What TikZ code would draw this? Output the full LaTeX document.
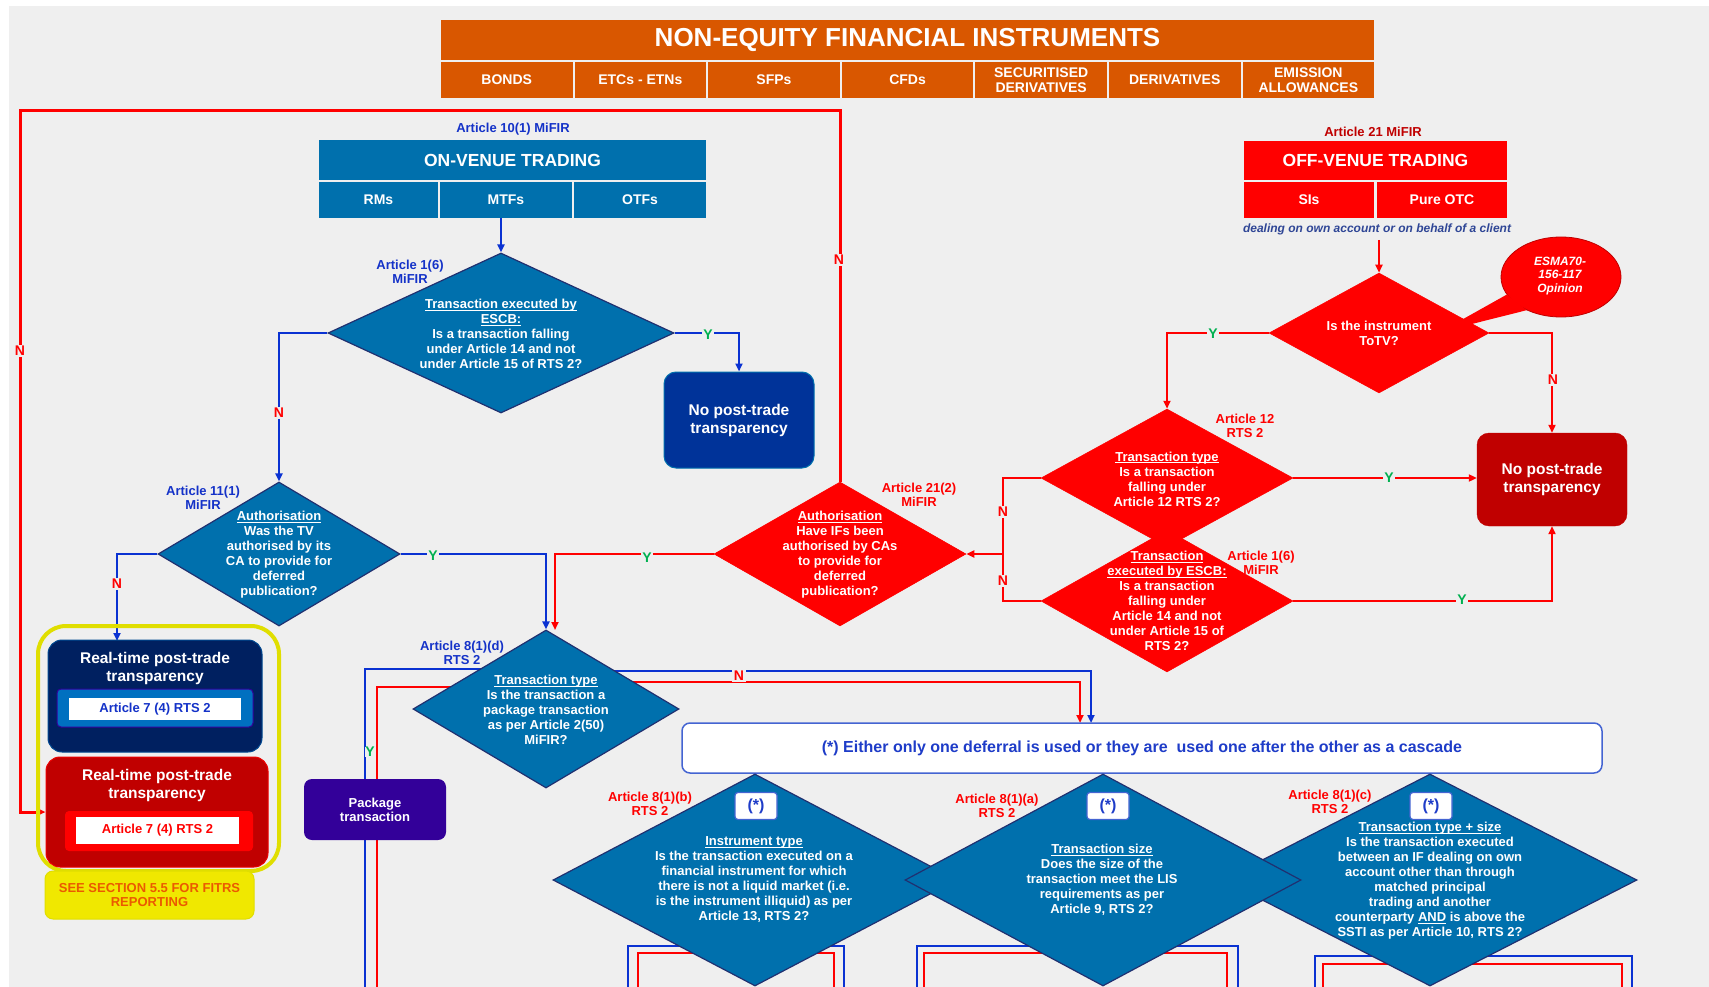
\documentclass[tikz,border=0pt]{standalone}
\usepackage{fontspec}
\setmainfont{Liberation Sans}
\usetikzlibrary{arrows.meta,shapes.geometric}
\pgfdeclarelayer{back}
\pgfdeclarelayer{lines}
\pgfsetlayers{back,lines,main}
\definecolor{bgc}{RGB}{239,239,239}
\definecolor{orangeT}{RGB}{217,87,0}
\definecolor{venueblue}{RGB}{0,112,173}
\definecolor{diaedge}{RGB}{32,48,112}
\definecolor{noblue}{RGB}{0,51,153}
\definecolor{rtnavy}{RGB}{0,32,96}
\definecolor{innerteal}{RGB}{0,112,192}
\definecolor{brred}{RGB}{255,0,0}
\definecolor{dkred}{RGB}{192,0,0}
\definecolor{pkg}{RGB}{51,0,153}
\definecolor{lineblue}{RGB}{10,50,210}
\definecolor{labblue}{RGB}{20,50,200}
\definecolor{ygreen}{RGB}{0,176,80}
\definecolor{yel}{RGB}{240,232,0}
\definecolor{yelline}{RGB}{224,222,0}
\definecolor{fitrs}{RGB}{235,90,0}
\definecolor{cascline}{RGB}{68,100,210}
\definecolor{casctext}{RGB}{30,60,200}
\definecolor{dealtext}{RGB}{47,70,150}
\newcommand\fsz[2]{\fontsize{#1}{#2}\selectfont}
\newsavebox\ulxbox
\newcommand\ulx[1]{\sbox\ulxbox{#1}\rlap{\rule[-1.8pt]{\wd\ulxbox}{0.9pt}}\usebox\ulxbox}
\begin{document}
\begin{tikzpicture}[x=1pt,y=-1pt,
 hdrbox/.style={fill=orangeT,text=white,inner sep=0pt,align=center,minimum height=36pt,font=\bfseries\fsz{14}{15.5}},
 vbox/.style={fill=venueblue,text=white,inner sep=0pt,align=center,font=\bfseries\fsz{14}{16}},
 rbox/.style={fill=brred,text=white,inner sep=0pt,align=center,font=\bfseries\fsz{14}{16}},
 dia/.style={diamond,inner sep=0pt,fill=venueblue,draw=diaedge,line width=1.2pt},
 rdia/.style={diamond,inner sep=0pt,fill=brred,draw=brred,line width=0.5pt},
 dtxt/.style={text=white,align=center,inner sep=0pt,font=\bfseries\fsz{13}{15}},
 artb/.style={text=labblue,align=center,inner sep=0pt,font=\bfseries\fsz{13}{14}},
 artr/.style={text=brred,align=center,inner sep=0pt,font=\bfseries\fsz{13}{14}},
 ylab/.style={text=ygreen,fill=bgc,inner sep=1.5pt,font=\bfseries\fsz{14}{14}},
 nlab/.style={text=brred,fill=bgc,inner sep=1.5pt,font=\bfseries\fsz{14}{14}},
 bline/.style={draw=lineblue,line width=2.7pt},
 rline/.style={draw=brred,line width=2.7pt},
 arr/.style={-{Triangle[length=8pt,width=7pt]}},
 bigbox/.style={text=white,align=center,inner sep=0pt,font=\bfseries\fsz{15.5}{18}},
 starbox/.style={fill=white,draw=cascline,line width=1.2pt,rounded corners=3pt,minimum width=42pt,minimum height=27pt,inner sep=0pt,text=casctext,font=\bfseries\fsz{16}{16}},
]
\begin{pgfonlayer}{back}
\fill[white] (0,0) rectangle (1709,987);
\fill[bgc] (9,6) rectangle (1709,987);
\end{pgfonlayer}
\useasboundingbox (0,0) rectangle (1709,987);

% ---------- header ----------
\node[fill=orangeT,text=white,inner sep=0pt,minimum width=933pt,minimum height=40pt,font=\bfseries\fsz{26}{28}] (ttl) at (907.5,40) {NON-EQUITY FINANCIAL INSTRUMENTS};
\node[hdrbox,minimum width=131.5pt] (h1) at (506.75,80) {BONDS};
\node[hdrbox,minimum width=131.5pt] (h2) at (640.35,80) {ETCs - ETNs};
\node[hdrbox,minimum width=131.5pt] (h3) at (773.95,80) {SFPs};
\node[hdrbox,minimum width=131.5pt] (h4) at (907.55,80) {CFDs};
\node[hdrbox,minimum width=131.5pt] (h5) at (1041.15,80) {SECURITISED\\DERIVATIVES};
\node[hdrbox,minimum width=131.5pt] (h6) at (1174.75,80) {DERIVATIVES};
\node[hdrbox,minimum width=131.5pt] (h7) at (1308.35,80) {EMISSION\\ALLOWANCES};

% ---------- on-venue ----------
\node[artb] (a101) at (513,129) {Article 10(1) MiFIR};
\node[vbox,minimum width=387pt,minimum height=40pt,font=\bfseries\fsz{17.5}{19}] (onv) at (512.5,160) {ON-VENUE TRADING};
\node[vbox,minimum width=119pt,minimum height=36pt] (rms) at (378.5,200) {RMs};
\node[vbox,minimum width=132pt,minimum height=36pt] (mtfs) at (506,200) {MTFs};
\node[vbox,minimum width=132pt,minimum height=36pt] (otfs) at (640,200) {OTFs};

% ---------- off-venue ----------
\node[artr,text=dkred] (a21) at (1373,132) {Article 21 MiFIR};
\node[rbox,minimum width=263pt,minimum height=39pt,font=\bfseries\fsz{17.5}{19}] (offv) at (1375.5,160.5) {OFF-VENUE TRADING};
\node[rbox,minimum width=130pt,minimum height=36pt] (sis) at (1309,200) {SIs};
\node[rbox,minimum width=130pt,minimum height=36pt] (potc) at (1442,200) {Pure OTC};
\node[text=dealtext,inner sep=0pt,font=\bfseries\itshape\fsz{12}{13}] (deal) at (1377,229) {dealing on own account or on behalf of a client};

% ---------- on-venue diamonds ----------
\node[dia,minimum width=346pt,minimum height=160pt] (dA) at (501,333) {};
\node[dtxt] (tA) at (501,334) {\ulx{Transaction executed by}\\\ulx{ESCB:}\\Is a transaction falling\\under Article 14 and not\\under Article 15 of RTS 2?};
\node[artb] (lA) at (410,272) {Article 1(6)\\MiFIR};

\node[bigbox,fill=noblue,draw=venueblue,line width=1pt,rounded corners=12pt,minimum width=150pt,minimum height=96pt] (noA) at (739,420) {No post-trade\\transparency};

\node[dia,minimum width=242pt,minimum height=144pt] (dB) at (279,554) {};
\node[dtxt] (tB) at (279,555) {\ulx{Authorisation}\\Was the TV\\authorised by its\\CA to provide for\\deferred\\publication?};
\node[artb] (lB) at (203,498) {Article 11(1)\\MiFIR};

\node[dia,minimum width=266pt,minimum height=158pt] (dC) at (546,709) {};
\node[dtxt] (tC) at (546,710) {\ulx{Transaction type}\\Is the transaction a\\package transaction\\as per Article 2(50)\\MiFIR?};
\node[artb] (lC) at (462,653) {Article 8(1)(d)\\RTS 2};

% ---------- off-venue diamonds ----------
\node[rdia,minimum width=220pt,minimum height=120pt] (dT) at (1379,333) {};
\node[ellipse,fill=brred,draw=dkred,line width=0.8pt,minimum width=120pt,minimum height=80pt,inner sep=0pt] (esma) at (1561,277) {};
\fill[brred] (esma.198) -- (1440,332) -- (esma.224) -- cycle;
\node[text=white,align=center,inner sep=0pt,font=\bfseries\itshape\fsz{12}{13.5}] (esmat) at (1560,276) {ESMA70-\\156-117\\Opinion};
\node[dtxt] (tT) at (1379,333) {Is the instrument\\ToTV?};

\node[bigbox,fill=dkred,draw=dkred,rounded corners=12pt,minimum width=150pt,minimum height=93pt] (noB) at (1552,479.5) {No post-trade\\transparency};

\node[rdia,minimum width=252pt,minimum height=138pt] (dE) at (1167,478) {};
\node[rdia,minimum width=252pt,minimum height=142pt] (dF) at (1167,601) {};
\node[dtxt] (tE) at (1167,479) {\ulx{Transaction type}\\Is a transaction\\falling under\\Article 12 RTS 2?};
\node[dtxt] (tF) at (1167,601) {\ulx{Transaction}\\\ulx{executed by ESCB:}\\Is a transaction\\falling under\\Article 14 and not\\under Article 15 of\\RTS 2?};
\node[artr] (lE) at (1245,426) {Article 12\\RTS 2};
\node[artr] (lF) at (1261,563) {Article 1(6)\\MiFIR};

\node[rdia,minimum width=252pt,minimum height=144pt] (dG) at (840,554) {};
\node[dtxt] (tG) at (840,555) {\ulx{Authorisation}\\Have IFs been\\authorised by CAs\\to provide for\\deferred\\publication?};
\node[artr] (lG) at (919,495) {Article 21(2)\\MiFIR};

% ---------- left boxes ----------
\node[draw=yelline,line width=4pt,rounded corners=28pt,minimum width=241pt,minimum height=245pt,inner sep=0pt] (yframe) at (158.5,748.5) {};
\node[fill=rtnavy,draw=innerteal!50!rtnavy,line width=1pt,rounded corners=14pt,minimum width=214pt,minimum height=112pt,inner sep=0pt] (rtA) at (155,696) {};
\node[bigbox] (rtAt) at (155,668) {Real-time post-trade\\transparency};
\node[fill=innerteal,draw=pkg,line width=1pt,rounded corners=4pt,minimum width=196pt,minimum height=38pt,inner sep=0pt] (rtAi) at (155,708) {};
\node[fill=white,minimum width=172pt,minimum height=22pt,inner sep=0pt,text=labblue,font=\bfseries\fsz{13}{14}] (rtAw) at (155,709) {Article 7 (4) RTS 2};

\node[fill=dkred,draw=brred!70!dkred,line width=1pt,rounded corners=14pt,minimum width=222pt,minimum height=110pt,inner sep=0pt] (rtB) at (157,812) {};
\node[bigbox] (rtBt) at (157,785) {Real-time post-trade\\transparency};
\node[fill=brred,rounded corners=4pt,minimum width=188pt,minimum height=40pt,inner sep=0pt] (rtBi) at (159,831) {};
\node[fill=white,minimum width=163pt,minimum height=27pt,inner sep=0pt,text=brred,font=\bfseries\fsz{13}{14}] (rtBw) at (157.5,830.5) {Article 7 (4) RTS 2};

\node[fill=yel,draw=yelline,line width=1pt,rounded corners=8pt,minimum width=209pt,minimum height=48pt,inner sep=0pt,align=center,text=fitrs,font=\bfseries\fsz{13}{14}] (fitrsbox) at (149.5,895) {SEE SECTION 5.5 FOR FITRS\\REPORTING};

\node[fill=pkg,rounded corners=8pt,minimum width=142pt,minimum height=61pt,inner sep=0pt,align=center,text=white,font=\bfseries\fsz{13}{14}] (pkgbox) at (375,809.5) {Package\\transaction};

% ---------- cascade ----------
\node[fill=white,draw=cascline,line width=1.5pt,rounded corners=8pt,minimum width=920pt,minimum height=50pt,inner sep=0pt,text=casctext,font=\bfseries\fsz{16}{18}] (casc) at (1142,748) {(*) Either only one deferral is used or they are\ \ used one after the other as a cascade};

% ---------- bottom diamonds ----------
\node[dia,minimum width=404pt,minimum height=212pt] (dH) at (755,880) {};
\node[dia,minimum width=414pt,minimum height=212pt] (dJ) at (1430,880) {};
\node[dia,minimum width=396pt,minimum height=212pt] (dI) at (1103,880) {};
\node[starbox] (sH) at (756,806) {(*)};
\node[starbox] (sI) at (1108,806) {(*)};
\node[starbox] (sJ) at (1431,806) {(*)};
\node[dtxt] (tH) at (754,880) {\ulx{Instrument type}\\Is the transaction executed on a\\financial instrument for which\\there is not a liquid market (i.e.\\is the instrument illiquid) as per\\Article 13, RTS 2?};
\node[dtxt] (tI) at (1102,880) {\ulx{Transaction size}\\Does the size of the\\transaction meet the LIS\\requirements as per\\Article 9, RTS 2?};
\node[dtxt] (tJ) at (1430,881) {\ulx{Transaction type + size}\\Is the transaction executed\\between an IF dealing on own\\account other than through\\matched principal\\trading and another\\counterparty \ulx{AND} is above the\\SSTI as per Article 10, RTS 2?};
\node[artr] (lH) at (650,804) {Article 8(1)(b)\\RTS 2};
\node[artr] (lI) at (997,806) {Article 8(1)(a)\\RTS 2};
\node[artr] (lJ) at (1330,802) {Article 8(1)(c)\\RTS 2};

% ---------- helper coordinates ----------
\coordinate (rtAin) at (117,641);
\coordinate (cIn) at (555,630);
\coordinate (fTL) at (20,111);
\coordinate (bL) at (365,987);
\coordinate (rL) at (377,987);
\coordinate (cascB) at (1091,723);
\coordinate (cascR) at (1080,723);
\coordinate (nJ) at (1003,554);

% ---------- connectors ----------
\begin{pgfonlayer}{lines}
\draw[bline,arr] (dA.north |- mtfs.south) -- (dA.north);
\draw[bline,arr] (dA.east) -| (noA.north);
\draw[bline,arr] (dA.west) -| (dB.north);
\draw[bline,arr] (dB.west) -| (rtAin);
\draw[bline,arr] (dB.east) -| (dC.north);
\draw[rline,arr] (dG.west) -| (cIn);
\draw[rline,line width=3pt,arr] (dG.north) |- (fTL) |- (rtB.west);
\draw[bline] (dC.center) ++(0,-40) -| (bL);
\draw[rline] (dC.center) ++(0,-22) -| (rL);
\draw[bline,arr] (dC.center) ++(0,-38) -| (cascB);
\draw[rline,arr] (dC.center) ++(0,-27) -| (cascR);
% bottom branches
\draw[bline] (628,987) |- (844,946) -- (844,987);
\draw[rline] (638,987) |- (834,953) -- (834,987);
\draw[bline] (917,987) |- (1238,946) -- (1238,987);
\draw[rline] (924,987) |- (1227,953) -- (1227,987);
\draw[bline] (1315,987) |- (1632,956) -- (1632,987);
\draw[rline] (1323,987) |- (1622,964) -- (1622,987);
% off-venue
\draw[rline,arr] (dT.north |- 0,240) -- (dT.north);
\draw[rline,arr] (dT.west) -| (dE.north);
\draw[rline,arr] (dT.east) -| (noB.north);
\draw[rline,arr] (dE.east) -- (noB.west |- dE.east);
\draw[rline,arr] (dF.east) -| (noB.south);
\draw[rline] (dE.west) -| (nJ);
\draw[rline] (dF.west) -| (nJ);
\draw[rline,arr] (nJ) -- (dG.east);
\end{pgfonlayer}

% ---------- Y / N labels ----------
\node[ylab] (yA) at (708,335) {Y};
\node[nlab] (nA) at (279,413) {N};
\node[nlab] (nB) at (117,584) {N};
\node[ylab] (yB) at (433,556) {Y};
\node[ylab] (yG) at (647,558) {Y};
\node[nlab] (nG1) at (839,260) {N};
\node[nlab] (nG2) at (20,351) {N};
\node[ylab,inner sep=0.5pt] (yC) at (370,752) {Y};
\node[nlab] (nC) at (739,676) {N};
\node[ylab] (yT) at (1213,334) {Y};
\node[nlab] (nT) at (1553,380) {N};
\node[ylab] (yE) at (1389,478) {Y};
\node[ylab] (yF) at (1462,600) {Y};
\node[nlab] (nE) at (1003,512) {N};
\node[nlab] (nF) at (1003,581) {N};
\end{tikzpicture}
\end{document}
